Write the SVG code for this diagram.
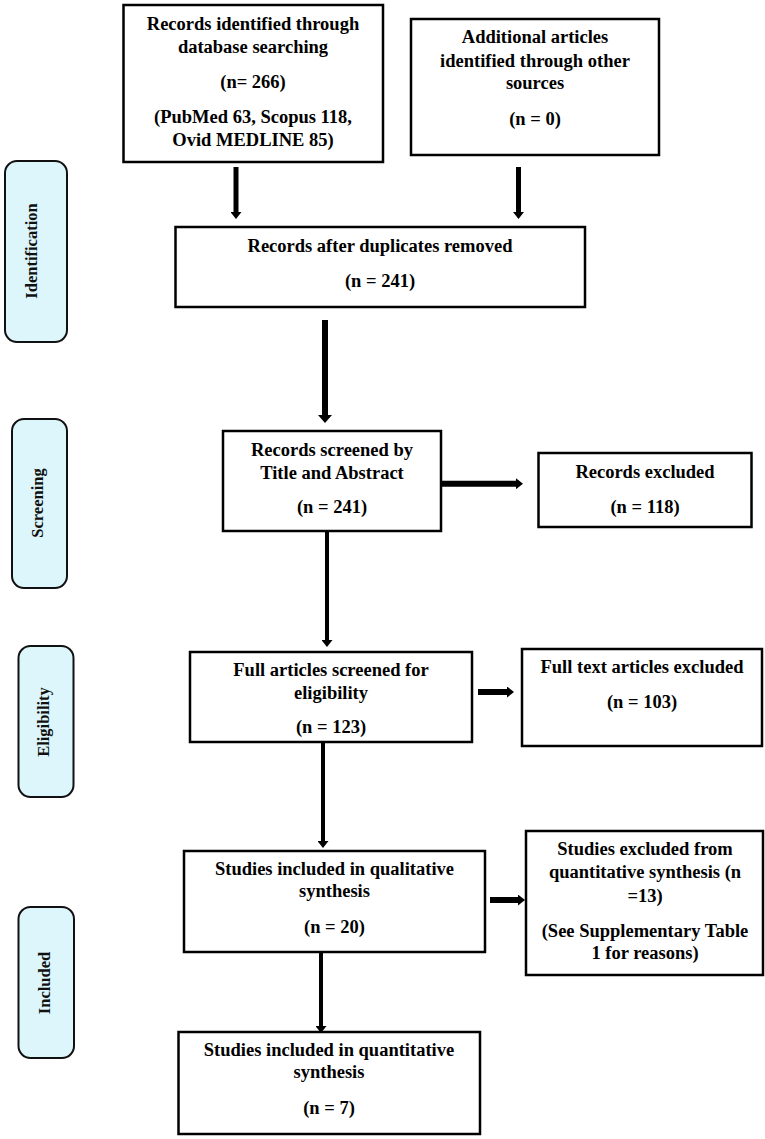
<svg xmlns="http://www.w3.org/2000/svg" width="765" height="1139" viewBox="0 0 765 1139">
<style>
.box{fill:#fff;stroke:#000;stroke-width:2.5}
.side{fill:#dcf6fb;stroke:#111;stroke-width:2}
.t{font-family:"Liberation Serif","Times New Roman",serif;font-weight:bold;font-size:18.5px;text-anchor:middle;fill:#000}
.s{font-family:"Liberation Serif","Times New Roman",serif;font-weight:bold;font-size:16.5px;text-anchor:middle;fill:#111}
.c{stroke:#000;fill:none}
</style>
<defs>
<marker id="ah" markerUnits="userSpaceOnUse" markerWidth="7" markerHeight="11" refX="0" refY="5.5" orient="auto" viewBox="0 0 7 11"><path d="M0,0 L7,5.5 L0,11 z" fill="#000"/></marker>
<marker id="ahL" markerUnits="userSpaceOnUse" markerWidth="8" markerHeight="14" refX="0" refY="7" orient="auto" viewBox="0 0 8 14"><path d="M0,0 L8,7 L0,14 z" fill="#000"/></marker>
</defs>
<rect width="765" height="1139" fill="#fff"/>

<g id="stage-identification">
<rect class="side" x="5" y="161" width="62" height="181" rx="12"/>
<text class="s" transform="translate(37,251) rotate(-90)">Identification</text>
</g>
<g id="stage-screening">
<rect class="side" x="12" y="419" width="55" height="169" rx="12"/>
<text class="s" transform="translate(43,503) rotate(-90)">Screening</text>
</g>
<g id="stage-eligibility">
<rect class="side" x="18.5" y="646" width="55" height="151" rx="12"/>
<text class="s" transform="translate(49,722) rotate(-90)">Eligibility</text>
</g>
<g id="stage-included">
<rect class="side" x="18.5" y="907" width="55.5" height="151" rx="12"/>
<text class="s" transform="translate(50,983) rotate(-90)">Included</text>
</g>

<g id="db-search">
<rect class="box" x="123.5" y="5" width="259.5" height="157"/>
<text class="t" x="253" y="30">Records identified through</text>
<text class="t" x="253" y="52.5">database searching</text>
<text class="t" x="253" y="87.5">(n= 266)</text>
<text class="t" x="253" y="122.8">(PubMed 63, Scopus 118,</text>
<text class="t" x="253" y="145.5">Ovid MEDLINE 85)</text>
</g>
<g id="other-sources">
<rect class="box" x="411" y="19" width="248" height="136"/>
<text class="t" x="535" y="43.3">Additional articles</text>
<text class="t" x="535" y="66.7">identified through other</text>
<text class="t" x="535" y="89.3">sources</text>
<text class="t" x="535" y="125">(n = 0)</text>
</g>
<g id="duplicates-removed">
<rect class="box" x="175.5" y="227" width="409.5" height="80"/>
<text class="t" x="380" y="252.3">Records after duplicates removed</text>
<text class="t" x="380" y="286.7">(n = 241)</text>
</g>
<g id="screened">
<rect class="box" x="223" y="431" width="218" height="100"/>
<text class="t" x="332" y="455.7">Records screened by</text>
<text class="t" x="332" y="479">Title and Abstract</text>
<text class="t" x="332" y="513.3">(n = 241)</text>
</g>
<g id="records-excluded">
<rect class="box" x="538.5" y="453" width="213" height="74"/>
<text class="t" x="645" y="478.3">Records excluded</text>
<text class="t" x="645" y="513.3">(n = 118)</text>
</g>
<g id="full-articles">
<rect class="box" x="190" y="652" width="282" height="90"/>
<text class="t" x="331" y="676">Full articles screened for</text>
<text class="t" x="331" y="699">eligibility</text>
<text class="t" x="331" y="733.3">(n = 123)</text>
</g>
<g id="full-text-excluded">
<rect class="box" x="522" y="649" width="240" height="97"/>
<text class="t" x="642" y="673.3">Full text articles excluded</text>
<text class="t" x="642" y="708.3">(n = 103)</text>
</g>
<g id="qualitative">
<rect class="box" x="184" y="851" width="301" height="101"/>
<text class="t" x="334.5" y="875">Studies included in qualitative</text>
<text class="t" x="334.5" y="897.3">synthesis</text>
<text class="t" x="334.5" y="933.3">(n = 20)</text>
</g>
<g id="quant-excluded">
<rect class="box" x="526" y="831" width="237" height="144"/>
<text class="t" x="645" y="855">Studies excluded from</text>
<text class="t" x="645" y="878.3">quantitative synthesis (n</text>
<text class="t" x="645" y="901.7">=13)</text>
<text class="t" x="645" y="936.7">(See Supplementary Table</text>
<text class="t" x="645" y="959.3">1 for reasons)</text>
</g>
<g id="quantitative">
<rect class="box" x="178.5" y="1032" width="301.5" height="102"/>
<text class="t" x="329" y="1056">Studies included in quantitative</text>
<text class="t" x="329" y="1078.3">synthesis</text>
<text class="t" x="329" y="1114">(n = 7)</text>
</g>

<g id="connectors">
<line class="c" x1="236" y1="167" x2="236" y2="212" stroke-width="5" marker-end="url(#ah)"/>
<line class="c" x1="518.5" y1="167" x2="518.5" y2="212" stroke-width="5" marker-end="url(#ah)"/>
<line class="c" x1="325" y1="320" x2="325" y2="415" stroke-width="6" marker-end="url(#ahL)"/>
<line class="c" x1="442" y1="483.7" x2="516" y2="483.7" stroke-width="6" marker-end="url(#ah)"/>
<line class="c" x1="327" y1="531" x2="327" y2="640" stroke-width="4" marker-end="url(#ah)"/>
<line class="c" x1="478" y1="692" x2="507" y2="692" stroke-width="6" marker-end="url(#ah)"/>
<line class="c" x1="323" y1="742" x2="323" y2="841" stroke-width="4" marker-end="url(#ah)"/>
<line class="c" x1="490" y1="900" x2="518" y2="900" stroke-width="6" marker-end="url(#ah)"/>
<line class="c" x1="321" y1="952" x2="321" y2="1026" stroke-width="4" marker-end="url(#ah)"/>
</g>
</svg>
